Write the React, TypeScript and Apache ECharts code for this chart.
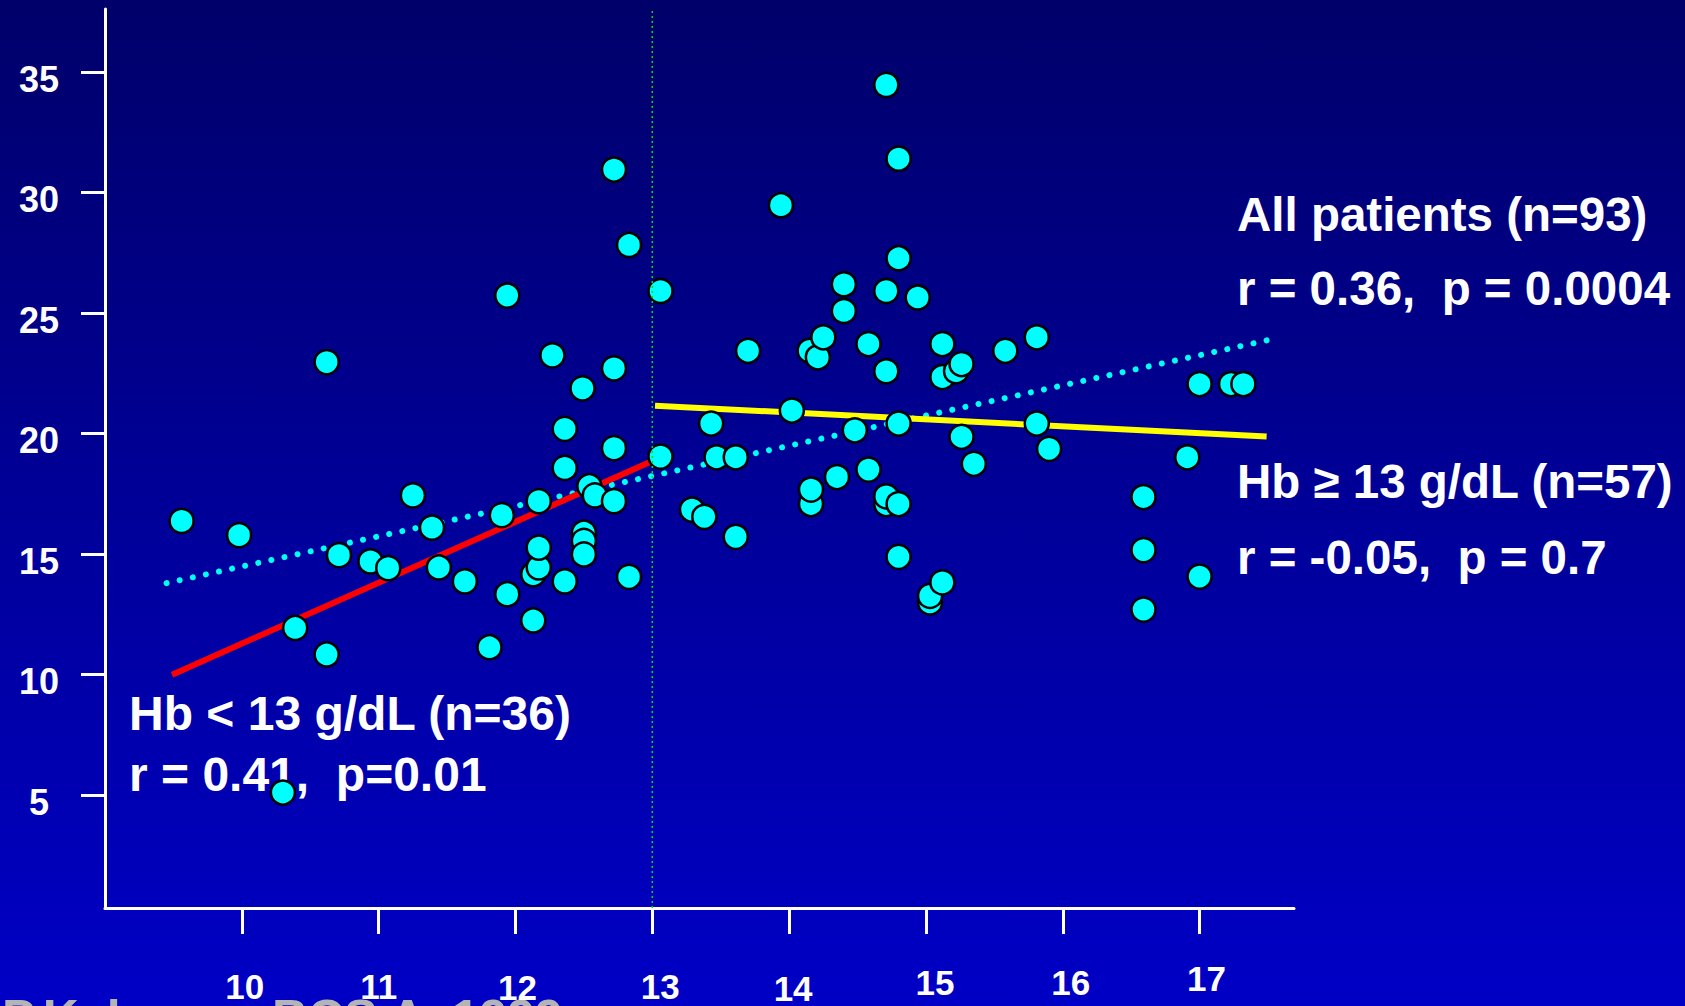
import { useEffect, useRef } from "react";
import * as echarts from "echarts";

// Axis ticks / labels
const xTicks = [10, 11, 12, 13, 14, 15, 16, 17];
const yTicks = [5, 10, 15, 20, 25, 30, 35];

// Hb < 13 g/dL group: [Hb (g/dL), y value]
const hbLow: number[][] = [
  [9.56, 16.37], [9.98, 15.78], [11.25, 17.43], [11.39, 16.09], [10.71, 14.95],
  [10.94, 14.69], [11.07, 14.41], [11.44, 14.44], [11.63, 13.86], [10.39, 11.93],
  [10.62, 10.83], [11.81, 11.13], [11.94, 13.33], [12.13, 12.24], [11.9, 16.61],
  [12.17, 17.19], [12.36, 20.19], [12.36, 18.57], [12.72, 19.39], [12.54, 17.81],
  [12.58, 17.43], [12.72, 17.19], [12.5, 15.88], [12.5, 15.54], [12.5, 14.98],
  [12.13, 14.16], [12.17, 14.44], [12.17, 15.26], [12.36, 13.86], [12.83, 14.05],
  [10.3, 5.1], [10.62, 22.96], [11.94, 25.72], [12.27, 23.24], [12.72, 30.95],
  [12.83, 27.82], [12.72, 22.7], [12.49, 21.87],
];

// Hb >= 13 g/dL group
const hbHigh: number[][] = [
  [13.06, 19.04], [13.06, 25.91],
  [14.71, 34.46], [14.8, 31.4], [13.94, 29.47], [14.8, 27.27], [14.4, 26.19],
  [14.71, 25.91], [14.94, 25.64], [14.4, 25.08], [13.7, 23.43], [14.15, 23.43],
  [14.21, 23.16], [14.25, 23.99], [14.58, 23.71], [14.71, 22.58], [15.12, 23.71],
  [15.12, 22.34], [15.22, 22.58], [15.26, 22.88], [15.58, 23.43], [15.81, 23.99],
  [13.43, 20.41], [14.02, 20.95], [14.48, 20.13], [14.8, 20.41], [15.26, 19.86],
  [15.81, 20.41], [15.9, 19.36],
  [13.47, 19.01], [13.61, 19.01], [15.35, 18.74], [14.58, 18.5], [14.35, 18.19],
  [14.16, 17.07], [14.16, 17.67], [14.71, 17.07], [14.71, 17.39], [14.8, 17.07],
  [13.29, 16.84], [13.38, 16.54], [13.61, 15.71], [14.8, 14.88], [15.03, 12.99],
  [15.03, 13.26], [15.12, 13.82], [16.59, 17.36], [16.59, 15.16], [16.59, 12.69],
  [17.0, 22.05], [17.23, 22.05], [17.32, 22.05], [16.91, 19.01], [17.0, 14.06],
];

// Regression lines
const fitLow: number[][] = [[9.49, 9.99], [13.0, 18.86]];
const fitHigh: number[][] = [[13.02, 21.15], [17.49, 19.87]];
const fitAll: number[][] = [[9.45, 13.79], [17.49, 23.86]];
const cutoffHb = 13;

const Y_MIN = 0.31;
const Y_MAX = 37.61;

const FONT = "'Liberation Sans', Arial, Helvetica, sans-serif";

// small per-label placement tweaks of the x tick labels: [dx, dy]
const xLabelShift: Record<number, number[]> = {
  10: [3, 0], 11: [0, 0], 12: [2, 1], 13: [8, 0],
  14: [4, 2], 15: [9, -4], 16: [8, -4], 17: [7, -8],
};

export default function App() {
  const ref = useRef<HTMLDivElement>(null);

  useEffect(() => {
    if (!ref.current) return;
    const chart = echarts.init(ref.current, undefined, { renderer: "svg" });

    const rich: Record<string, any> = {};
    xTicks.forEach((v) => {
      const [dx, dy] = xLabelShift[v] || [0, 0];
      rich["l" + v] = {
        fontSize: 35,
        fontWeight: "bold",
        fontFamily: FONT,
        color: "#ffffff",
        padding: [dy + 8, 0, 0, 2 * dx],
      };
    });

    const textStyle = (text: string, x: number, y: number, size: number) => ({
      type: "text",
      x,
      y,
      silent: true,
      style: {
        text,
        fill: "#ffffff",
        font: `bold ${size}px ${FONT}`,
        verticalAlign: "middle",
        align: "left",
      },
    });

    const option: any = {
      animation: false,
      backgroundColor: "transparent",
      grid: { left: 105, right: 391, top: 9, bottom: 94 },
      xAxis: {
        type: "value",
        min: 9,
        max: 17.69,
        axisLine: { show: true, onZero: false, lineStyle: { color: "#ffffff", width: 3 } },
        splitLine: { show: false },
        axisTick: {
          show: true,
          customValues: xTicks,
          length: 26,
          lineStyle: { color: "#ffffff", width: 3 },
        },
        axisLabel: {
          customValues: xTicks,
          margin: 53,
          formatter: (v: number) => `{l${v}|${v}}`,
          rich,
        },
      },
      yAxis: {
        type: "value",
        min: Y_MIN,
        max: Y_MAX,
        axisLine: { show: true, onZero: false, lineStyle: { color: "#ffffff", width: 3 } },
        splitLine: { show: false },
        axisTick: {
          show: true,
          customValues: yTicks,
          length: 24,
          lineStyle: { color: "#ffffff", width: 3 },
        },
        axisLabel: {
          customValues: yTicks,
          margin: 66,
          align: "center",
          formatter: (v: number) => `{y|${v}}`,
          rich: {
            y: {
              color: "#ffffff",
              fontSize: 36,
              fontWeight: "bold",
              fontFamily: FONT,
              padding: [15, 0, 0, 0],
            },
          },
        },
      },
      series: [
        {
          type: "line",
          data: fitAll,
          z: 1,
          silent: true,
          symbol: "none",
          lineStyle: { color: "#00ffff", width: 6, type: [0.01, 13.4], cap: "round" },
        },
        {
          type: "line",
          data: fitLow,
          z: 1,
          silent: true,
          symbol: "none",
          lineStyle: { color: "#ff0000", width: 6 },
        },
        {
          type: "line",
          data: fitHigh,
          z: 1,
          silent: true,
          symbol: "none",
          lineStyle: { color: "#ffff00", width: 6 },
        },
        {
          type: "scatter",
          data: hbLow,
          z: 2,
          silent: true,
          symbolSize: 24,
          itemStyle: { color: "#00ffff", borderColor: "#000000", borderWidth: 2.5, opacity: 1 },
        },
        {
          type: "scatter",
          data: hbHigh,
          z: 2,
          silent: true,
          symbolSize: 24,
          itemStyle: { color: "#00ffff", borderColor: "#000000", borderWidth: 2.5, opacity: 1 },
        },
        {
          type: "line",
          data: [[cutoffHb, Y_MIN], [cutoffHb, Y_MAX]],
          z: 3,
          silent: true,
          symbol: "none",
          lineStyle: { color: "#00e000", width: 1.5, type: [2, 3] },
        },
      ],
      graphic: [
        textStyle("All patients (n=93)", 1237, 214, 47.5),
        textStyle("r = 0.36,  p = 0.0004", 1237, 288, 47.5),
        textStyle("Hb \u2265 13 g/dL (n=57)", 1237, 481, 47.5),
        textStyle("r = -0.05,  p = 0.7", 1237, 557, 47.5),
        textStyle("Hb < 13 g/dL (n=36)", 129, 713, 48),
        textStyle("r = 0.41,  p=0.01", 129, 774, 48),
        {
          type: "text",
          x: 2,
          y: 1018,
          silent: true,
          style: { text: "P.Kalra", fill: "#b4b4b4", font: `bold 50px ${FONT}`, verticalAlign: "middle" },
        },
        {
          type: "text",
          x: 272,
          y: 1018,
          silent: true,
          style: { text: "BCS A  1999", fill: "#b4b4b4", font: `bold 50px ${FONT}`, verticalAlign: "middle" },
        },
      ],
    };

    chart.setOption(option);
    return () => chart.dispose();
  }, []);

  return (
    <div
      style={{
        position: "fixed",
        left: 0,
        top: 0,
        width: 1685,
        height: 1006,
        overflow: "hidden",
        background: "linear-gradient(to bottom, #00006a 0%, #0000c6 100%)",
      }}
    >
      <div ref={ref} style={{ width: 1685, height: 1006 }} />
    </div>
  );
}
